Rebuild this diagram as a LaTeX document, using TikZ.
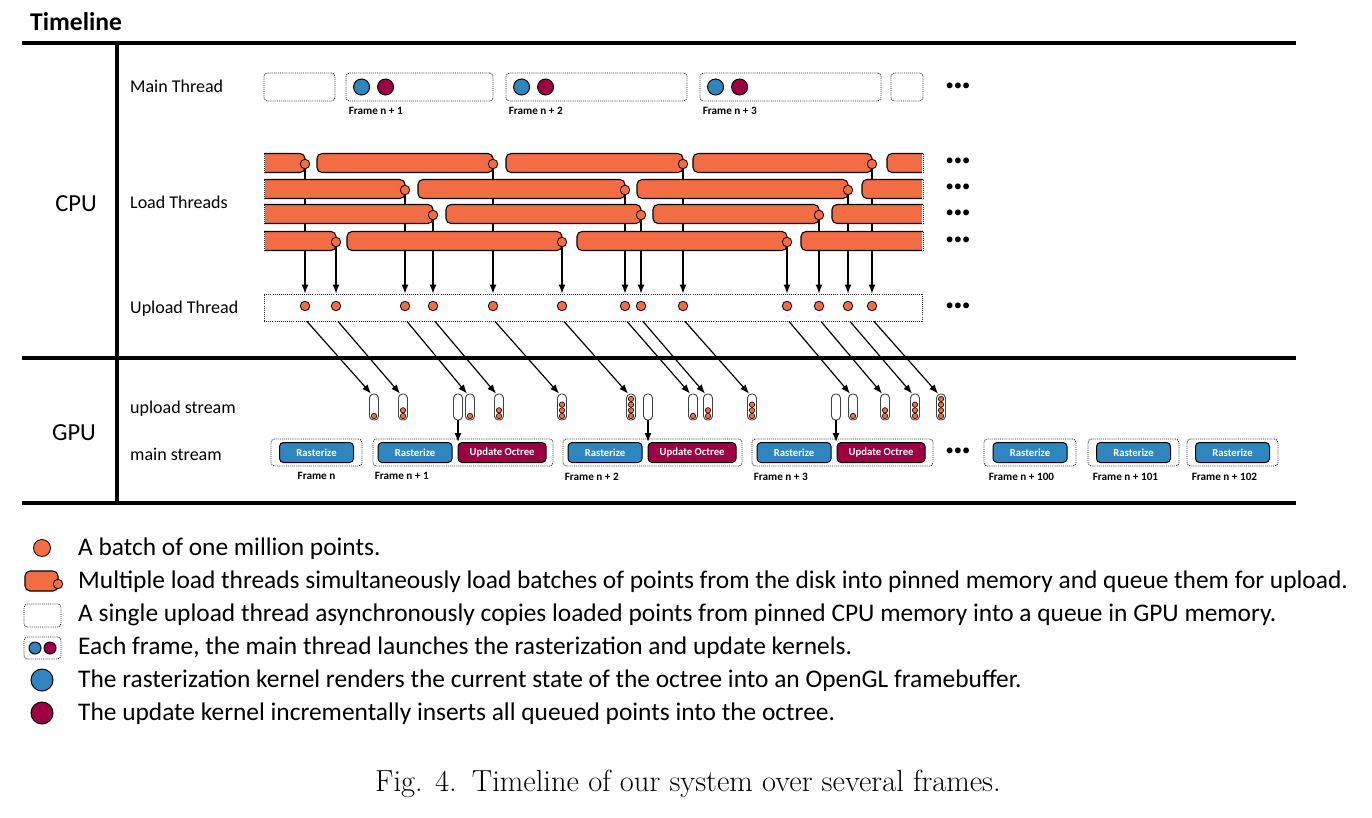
\documentclass[tikz,border=0pt]{standalone}
\usepackage{fontspec}
\setsansfont{Carlito}
\renewcommand{\familydefault}{\sfdefault}
\usetikzlibrary{arrows.meta,backgrounds}

\definecolor{loadorange}{HTML}{F26D43}
\definecolor{rastblue}{HTML}{2F86BF}
\definecolor{updred}{HTML}{9C0042}

\tikzset{
  sep/.style={line width=4.2pt},
  dotbox/.style={draw=black!85,line width=0.9pt,dash pattern=on 1pt off 1.1pt,rounded corners=3.5pt,inner sep=0pt},
  loadbar/.style={fill=loadorange,draw=black,line width=1.1pt,rounded corners=5pt},
  batch/.style={circle,fill=loadorange,draw=black,line width=0.8pt,inner sep=0pt,minimum size=#1},
  batch/.default=9.5pt,
  kernel/.style={circle,draw=black,line width=1pt,inner sep=0pt,minimum size=#1},
  kernel/.default=16pt,
  queue/.style={draw=black!75,fill=white,line width=0.9pt,rounded corners=4pt,minimum width=9pt,minimum height=26pt,inner sep=0pt},
  button/.style={draw=black,line width=1pt,rounded corners=4pt,text=white,minimum height=20pt,inner sep=0pt,font=\fontsize{10.7}{12}\selectfont\bfseries},
  flow/.style={line width=1.2pt,-{Latex[length=9pt,width=7pt]}},
  framelbl/.style={inner sep=0pt,font=\fontsize{11.2}{13}\selectfont\bfseries},
  rowlbl/.style={anchor=base west,inner sep=0pt,font=\fontsize{18}{20}\selectfont},
  unitlbl/.style={anchor=base,inner sep=0pt,font=\fontsize{24.5}{28}\selectfont},
  legtxt/.style={anchor=base west,inner sep=0pt,font=\fontsize{25.4}{28}\selectfont},
  more/.style={inner sep=0pt,font=\fontsize{16.5}{17}\selectfont},
}

\begin{document}
\begin{tikzpicture}[x=1pt,y=-1pt]
    %% Timeline over several frames

    % Canvas
    \useasboundingbox (0,0) rectangle (1372,817);

    % Heading and separators
    \node[anchor=base west,inner sep=0pt,font=\fontsize{25.6}{28}\selectfont\bfseries] (title) at (30,30) {Timeline};
    \draw[sep] (22,43) -- (1296,43);
    \draw[sep] (22,358) -- (1296,358);
    \draw[sep] (22,503) -- (1296,503);
    \draw[sep] (117,43) -- (117,503);

    % Unit and row labels
    \node[unitlbl] (cpu) at (76,211) {CPU};
    \node[unitlbl] (gpu) at (74,440) {GPU};
    \node[rowlbl] (mainrow) at (130,92) {Main Thread};
    \node[rowlbl] (loadrow) at (130,208) {Load Threads};
    \node[rowlbl] (uprow) at (130,313) {Upload Thread};
    \node[rowlbl] (upstream) at (130,413) {upload stream};
    \node[rowlbl] (mainstream) at (130,460) {main stream};

    % Main thread frames
    \foreach \n/\a/\b in {0/264/335,1/346/493,2/506/687,3/700/881,4/891/923}
        \node[dotbox,minimum width={\b-\a},minimum height=28pt] (m\n) at ({(\a+\b)/2},87) {};
    \foreach \n in {1,2,3} {
        \node[kernel,fill=rastblue] (kb\n) at ([xshift=16pt]m\n.west) {};
        \node[kernel,fill=updred] (kr\n) at ([xshift=40pt]m\n.west) {};
        \node[framelbl,anchor=north west] (mf\n) at ([xshift=3pt,yshift=-6pt]m\n.south west) {Frame n + \n};
    }

    % Upload thread
    \node[dotbox,rounded corners=0pt,minimum width=658pt,minimum height=27pt] (ubox) at (593,307.5) {};
    \foreach \n/\x in {1/305,2/336,3/405,4/433,5/493,6/562,7/625,8/641,9/683,10/787,11/819,12/848,13/872}
        \node[batch] (u\n) at (\x,306) {};

    % Load threads (cut off at both ends)
    \begin{scope}
        \clip (264,150) rectangle (923,255);
        \foreach \y/\a/\b in {163/250/305,163/317/493,163/506/683,163/693/872,163/887/940,
                              189/250/405,189/418/625,189/637/848,189/862/940,
                              214/250/433,214/446/641,214/653/819,214/832/940,
                              241/250/336,241/347/562,241/577/787,241/801/940}
            \draw[loadbar] (\a,\y-9.5) rectangle (\b,\y+9.5);
    \end{scope}
    \foreach \y in {163,189,214,241} {
        \draw[white,line width=1.2pt] (264,\y-9.5) -- (264,\y+9.5) (923,\y-9.5) -- (923,\y+9.5);
        \draw[black!85,line width=1pt,dash pattern=on 1pt off 1.1pt] (264,\y-9.5) -- (264,\y+9.5) (923,\y-9.5) -- (923,\y+9.5);
    }
    \foreach \n/\x/\y in {1/305/163,2/336/241,3/405/189,4/433/214,5/493/163,6/562/241,7/625/189,
                          8/641/214,9/683/163,10/787/241,11/819/214,12/848/189,13/872/163}
        \node[batch] (b\n) at (\x,\y+1) {};

    % Batches handed to the upload thread
    \begin{scope}[on background layer]
        \foreach \n in {1,...,13}
            \draw[flow] (b\n.south) -- (b\n |- ubox.north);
    \end{scope}

    % Upload stream queue
    \foreach \n/\x/\k in {1/374/1,2/403/2,3/470/1,4/499/2,5/562/3,6/631/4,7/693/1,
                          8/708/2,9/752/3,10/853/1,11/885/2,12/915/3,13/941/4} {
        \node[queue] (q\n) at (\x,407) {};
        \foreach \j in {1,...,\k}
            \filldraw[fill=loadorange,draw=black,line width=0.6pt] (\x,{416-5.7*(\j-1)}) circle (2.7pt);
        \draw[flow] ([xshift=2pt]u\n |- ubox.south) -- ([xshift=-3pt]q\n.north);
    }
    \foreach \n/\x in {1/458,2/648,3/836}
        \node[queue] (e\n) at (\x,407) {};

    % Main stream frames
    \node[dotbox,minimum width=91pt,minimum height=27pt] (g0) at (316.5,452.5) {};
    \node[button,fill=rastblue,minimum width=74pt] (gr0) at (g0) {Rasterize};
    \node[framelbl,anchor=north] (gf0) at ([yshift=-6pt]g0.south) {Frame n};
    \foreach \n/\a/\b in {1/373/553,2/563/742,3/752/933} {
        \node[dotbox,minimum width={\b-\a},minimum height=27pt] (g\n) at ({(\a+\b)/2},452.5) {};
        \node[button,fill=rastblue,minimum width=74pt,anchor=west] (gr\n) at ([xshift=5pt]g\n.west) {Rasterize};
        \node[button,fill=updred,minimum width=88pt,anchor=west] (gu\n) at ([xshift=5pt]gr\n.east) {Update Octree};
        \node[framelbl,anchor=north west] (gf\n) at ([xshift=2pt,yshift=-6pt]g\n.south west) {Frame n + \n};
        \draw[flow] (e\n.south) -- (e\n.south |- gu\n.north);
    }
    \foreach \n/\a/\b in {100/984/1076,101/1088/1179,102/1187/1278} {
        \node[dotbox,minimum width={\b-\a},minimum height=27pt] (g\n) at ({(\a+\b)/2},452.5) {};
        \node[button,fill=rastblue,minimum width=74pt] (gr\n) at (g\n) {Rasterize};
        \node[framelbl,anchor=north west] (gf\n) at ([xshift=5pt,yshift=-6pt]g\n.south west) {Frame n + \n};
    }

    % Continuation marks
    \foreach \n/\y in {1/87,2/162,3/188,4/214,5/241,6/307,7/452}
        \node[more] (more\n) at (958,\y) {•••};

    % Legend
    \node[batch=17pt] (key1) at (42,548) {};
    \draw[loadbar] (25,571) rectangle (58,591);
    \node[batch] (key2) at (58,584) {};
    \node[dotbox,minimum width=37pt,minimum height=23pt] (key3) at (42.5,615.5) {};
    \node[dotbox,minimum width=37pt,minimum height=22pt] (key4) at (42.5,648) {};
    \node[kernel=12pt,fill=rastblue] (key4b) at (35,648) {};
    \node[kernel=12pt,fill=updred] (key4r) at (50,648) {};
    \node[kernel=22pt,fill=rastblue] (key5) at (42,680) {};
    \node[kernel=22pt,fill=updred] (key6) at (42,713) {};

    \node[legtxt] (txt1) at (78,555) {A batch of one million points.};
    \node[legtxt] (txt2) at (78,588) {Multiple load threads simultaneously load batches of points from the disk into pinned memory and queue them for upload.};
    \node[legtxt] (txt3) at (78,621) {A single upload thread asynchronously copies loaded points from pinned CPU memory into a queue in GPU memory.};
    \node[legtxt] (txt4) at (78,654) {Each frame, the main thread launches the rasterization and update kernels.};
    \node[legtxt] (txt5) at (78,687) {The rasterization kernel renders the current state of the octree into an OpenGL framebuffer.};
    \node[legtxt] (txt6) at (78,720) {The update kernel incrementally inserts all queued points into the octree.};

    % Caption
    \node[anchor=base,inner sep=0pt,font=\rmfamily\fontsize{30.5}{33}\selectfont] (caption) at (688,791) {Fig. 4.\enspace Timeline of our system over several frames.};

\end{tikzpicture}
\end{document}
